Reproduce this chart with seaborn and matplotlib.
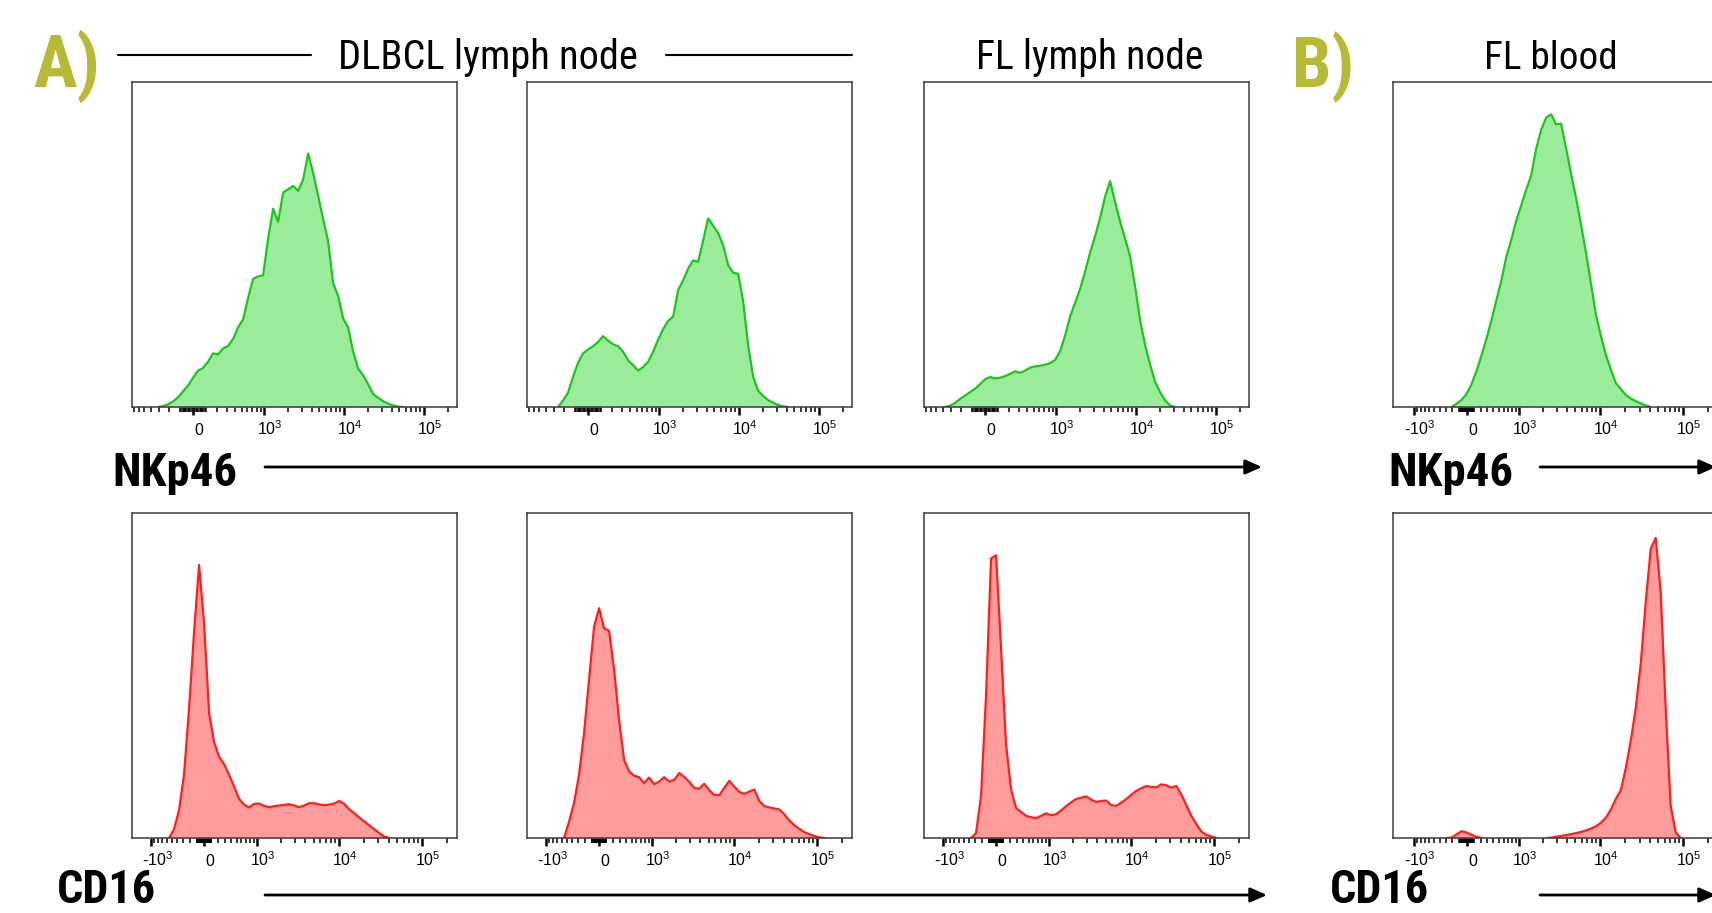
import numpy as np
import pandas as pd
import matplotlib
matplotlib.use("Agg")
import matplotlib.pyplot as plt
from matplotlib import font_manager
from matplotlib.patches import FancyArrowPatch
from matplotlib.lines import Line2D
from matplotlib.transforms import ScaledTranslation
from matplotlib.ticker import FixedLocator, FixedFormatter, NullLocator
import seaborn as sns

# ------------------------------------------------------------------ data
# histogram bin centres (fluorescence intensity), one grid per display transform
grid_top = [-718, -613, -525, -447, -376, -313, -257, -206, -160, -117, -77, -38,
            0, 38, 77, 117, 160, 206, 257, 313, 376, 447, 525, 613, 718, 834, 970,
            1128, 1305, 1512, 1749, 2025, 2341,
            2703, 3122, 3606, 4165, 4811, 5556, 6418, 7412, 8561, 9888, 11420, 13190,
            15235, 17600, 20320, 23470, 27110, 31310, 36170, 41770, 48250, 55730,
            64370, 74340, 85870, 99180]
grid_bot = [-1658, -1432, -1234, -1062, -911, -777, -658, -551, -454, -366, -285,
            -209, -137, -68,
            0, 68, 137, 209, 285, 366, 454, 551, 658, 777, 911, 1062, 1234, 1432,
            1658, 1915, 2209, 2545, 2922, 3360, 3862,
            4440, 5110, 5870, 6740, 7740, 8890, 10200, 11710, 13450, 15440, 17720,
            20340, 23350, 26800, 30770, 35330, 40570, 46570, 53460, 61370, 70460,
            80900, 92860, 106600, 122400, 140600, 161400, 185300, 212700, 244200]

# counts, % of plot height
nkp46_dlbcl_a = [0, 0, 0, 0, 0, 0, 0.3, 0.8, 1.7, 3.0, 4.8, 6.6,
                 9.0, 11.2, 12.0, 13.9, 16.5, 16.2, 18.0, 18.8, 21.0, 24.6, 27.0,
                 33.5, 39.4, 40.2, 40.5, 52, 61, 57, 66, 67, 68,
                 66.5, 70, 78, 72, 65, 57.8, 51, 38, 34.2, 27.2, 24.5, 17, 11.8,
                 9.8, 7, 4, 2.8, 1.8, 1.0, 0.5, 0.1, 0, 0, 0, 0, 0]
nkp46_dlbcl_b = [0, 0, 0, 0, 0, 0, 0, 2, 4.4, 9.3, 13.6, 16.5,
                 17.7, 18.7, 20, 21.8, 20.4, 19.3, 18.7, 17, 14.3, 12.8, 11.2, 12.3,
                 13.9, 17, 20.7, 24, 26.5, 27.8, 36, 39, 42.6,
                 45.1, 44.7, 51.2, 58, 55.8, 53.5, 49.8, 43.7, 41.3, 41, 32.5, 19,
                 9.3, 5, 3.4, 2.1, 1.3, 0.6, 0.2, 0, 0, 0, 0, 0, 0, 0]
nkp46_fl_ln = [0, 0, 0, 0, 0, 0.4, 1.2, 2.5, 3.5, 4.6, 5.6, 7,
               8.5, 9.2, 8.8, 9, 9.5, 10.2, 11, 10.5, 11.2, 12.1, 12.5, 12.7, 13,
               13.5, 14.5, 17.2, 22, 27.9, 32.1, 36.4, 41.8,
               47.6, 52.6, 58.2, 64.8, 69.5, 63, 57, 51.8, 46.3, 37, 26.6, 19, 13,
               7.7, 4.5, 2, 0.4, 0, 0, 0, 0, 0, 0, 0, 0, 0]
nkp46_fl_blood = [0, 0, 0, 0, 0, 0, 0, 0, 0, 0, 0, 0, 1, 2.2,
                  4, 7, 11, 15.8, 21, 26.7, 32.8, 38.9, 46.2, 51.4, 57.3, 62, 66.8,
                  71.2, 79.5, 85.3, 89.1, 90, 87, 87.2, 79.6,
                  71.8, 64.2, 56, 47.4, 37.8, 28.3, 21.8, 16, 11.4, 7.3, 5.5, 3.7,
                  2.6, 1.8, 1.1, 0.5, 0, 0, 0, 0, 0, 0, 0, 0, 0, 0, 0, 0, 0, 0]
cd16_dlbcl_a = [0, 0, 0, 0, 0, 0, 0, 0, 2.7, 8.6, 19.4, 39.8, 63.4, 84,
                66, 38.5, 29.5, 25, 22.7, 19.4, 15.8, 12, 10.3, 9.4, 10.5, 10.6,
                9.9, 9.5, 9.8, 10, 10.2, 10.4, 10, 9.5, 10,
                10.7, 10.7, 10.3, 10.1, 10.3, 10.6, 11.4, 10.5, 8.8, 7.6, 6.3, 5.1,
                3.9, 2.7, 1.5, 0.4, 0, 0, 0, 0, 0, 0, 0, 0, 0, 0, 0, 0, 0, 0]
cd16_dlbcl_b = [0, 0, 0, 0, 0, 0, 0, 0, 5, 10.8, 19.4, 32.2, 48.8, 65,
                70.7, 64.5, 63.8, 51.8, 36.2, 24, 20.5, 19.2, 18.7, 16.9, 18.6,
                16.6, 17.3, 18.7, 17.4, 17.9, 20, 18.8, 17.3, 15.4, 15.2,
                16.7, 14.7, 13.2, 13.2, 15.4, 17.6, 15.8, 14.2, 13.6, 14.3, 14.9,
                11.4, 9.8, 9.4, 9.1, 8.8, 7.3, 5.4, 3.9, 2.8, 1.8, 1.2, 0.6, 0.2,
                0, 0, 0, 0, 0, 0]
cd16_fl_ln = [0, 0, 0, 0, 0, 0, 0, 0, 0, 0, 1.5, 13, 44, 86,
              87, 58, 28.7, 14.8, 9.2, 8, 6.8, 6.4, 6.1, 6.8, 7.6, 7, 7.3, 8.5,
              9.8, 11, 12, 12.4, 12.8, 11.8, 11.1,
              11.4, 11.5, 10.1, 9.9, 10.9, 12, 13.3, 14.5, 15.3, 16, 15.7, 15.6,
              16.5, 16.2, 15.5, 16, 13.4, 10.1, 6.8, 4.3, 2, 1, 0.5,
              0, 0, 0, 0, 0, 0, 0]
cd16_fl_blood = [0, 0, 0, 0, 0, 0, 0, 0, 0, 0, 0, 0.1, 1.1, 2.1,
                 1.7, 1, 0.4, 0, 0, 0, 0, 0, 0, 0, 0, 0, 0, 0, 0, 0, 0, 0.1, 0.4,
                 0.6, 0.9,
                 1.2, 1.5, 1.9, 2.3, 2.9, 3.6, 4.7, 6.3, 8.8, 12.1, 14.7, 21.5, 30,
                 40, 53.7, 72.5, 89, 92.3, 75.8, 40.3, 10, 1.8, 0, 0, 0, 0, 0, 0,
                 0, 0]

tick_values = [-1000, 0, 1000, 10000, 100000]
tick_labels = [r"-$10^{3}$", "0", r"$10^{3}$", r"$10^{4}$", r"$10^{5}$"]
column_titles = ["DLBCL lymph node", "FL lymph node", "FL blood"]
row_labels = ["NKp46", "CD16"]
panel_letters = ["A)", "B)"]

# ------------------------------------------------------------------ style
sns.set_theme(style="white")
avail = {f.name for f in font_manager.fontManager.ttflist}
FONT = "Liberation Sans"
for cand in ["Liberation Sans Narrow", "Arial Narrow", "Nimbus Sans Narrow",
             "Roboto Condensed"]:
    if cand in avail:
        FONT = cand
        break
TICKFONT = "Liberation Sans"
plt.rcParams["font.family"] = [FONT, "DejaVu Sans"]
plt.rcParams["mathtext.fontset"] = "custom"
plt.rcParams["mathtext.rm"] = TICKFONT
plt.rcParams["mathtext.it"] = TICKFONT
plt.rcParams["mathtext.bf"] = TICKFONT
plt.rcParams["text.color"] = "black"
plt.rcParams["xtick.color"] = "black"
plt.rcParams["xtick.labelcolor"] = "black"

W, H = 1712, 913
fig = plt.figure(figsize=(W / 100, H / 100), dpi=100)
fig.patch.set_facecolor("white")

GREEN_LINE, GREEN_FILL = "#1ec51e", "#9aeb9a"
RED_LINE, RED_FILL = "#ff1f1f", "#ff9c9c"
OLIVE = "#b6ba35"


def add_px_axes(left, top, w=325, h=325):
    return fig.add_axes([left / W, 1 - (top + h) / H, w / W, h / H])


minor_ticks = sorted({s * m * 10 ** n for s in (-1, 1) for n in (1, 2, 3, 4)
                      for m in range(1, 10)} - set(tick_values) | {200000})
label_shift = ScaledTranslation(6 / 100, 0, fig.dpi_scale_trans)


def style_axes(ax, c, xmin):
    fwd = lambda x, c=c: np.arcsinh(np.asarray(x, dtype=float) / c)
    inv = lambda u, c=c: c * np.sinh(np.asarray(u, dtype=float))
    ax.set_xscale("function", functions=(fwd, inv))
    ax.set_xlim(xmin, 262144)
    ax.set_ylim(0, 100)
    ax.xaxis.set_major_locator(FixedLocator(tick_values))
    ax.xaxis.set_major_formatter(FixedFormatter(tick_labels))
    ax.xaxis.set_minor_locator(FixedLocator(minor_ticks))
    ax.yaxis.set_major_locator(NullLocator())
    ax.yaxis.set_minor_locator(NullLocator())
    ax.tick_params(axis="x", which="major", direction="out", length=5.4, width=1.8,
                   color="black", labelsize=11.5, pad=14.5, bottom=True)
    ax.tick_params(axis="x", which="minor", direction="out", length=3.6, width=1.1,
                   color="black", bottom=True)
    for t in ax.xaxis.get_major_ticks():
        t.label1.set_fontfamily([TICKFONT])
        t.label1.set_verticalalignment("baseline")
        t.label1.set_transform(t.label1.get_transform() + label_shift)
    for sp in ax.spines.values():
        sp.set_visible(True)
        sp.set_color("#3c3c3c")
        sp.set_linewidth(1.1)
    ax.set_xlabel("")
    ax.set_ylabel("")


def draw_hist(ax, grid, vals, line, fill):
    x = np.asarray(grid, dtype=float)
    y = np.asarray(vals, dtype=float)
    assert len(x) == len(y), (len(x), len(y))
    ax.fill_between(x, 0, y, color=fill, lw=0, zorder=1)
    # outline only where the histogram is above the baseline
    on = y > 0
    keep = on | np.r_[on[1:], False] | np.r_[False, on[:-1]]
    idx = np.flatnonzero(keep)
    if len(idx) == 0:
        return
    splits = np.flatnonzero(np.diff(idx) > 1) + 1
    for seg in np.split(idx, splits):
        df = pd.DataFrame({"x": x[seg], "y": y[seg]})
        sns.lineplot(data=df, x="x", y="y", ax=ax, color=line, lw=1.6,
                     sort=False, estimator=None, zorder=2)


lefts = [132, 527, 924, 1393]
top_row, bot_row = 82, 513
panels = [
    (lefts[0], top_row, grid_top, nkp46_dlbcl_a, 263, -740, "g"),
    (lefts[1], top_row, grid_top, nkp46_dlbcl_b, 263, -740, "g"),
    (lefts[2], top_row, grid_top, nkp46_fl_ln, 263, -740, "g"),
    (lefts[3], top_row, grid_bot, nkp46_fl_blood, 490, -1850, "g"),
    (lefts[0], bot_row, grid_bot, cd16_dlbcl_a, 490, -1755, "r"),
    (lefts[1], bot_row, grid_bot, cd16_dlbcl_b, 490, -1755, "r"),
    (lefts[2], bot_row, grid_bot, cd16_fl_ln, 490, -1755, "r"),
    (lefts[3], bot_row, grid_bot, cd16_fl_blood, 490, -1850, "r"),
]
for left, top, grid, vals, c, xmin, col in panels:
    ax = add_px_axes(left, top)
    line, fill = (GREEN_LINE, GREEN_FILL) if col == "g" else (RED_LINE, RED_FILL)
    draw_hist(ax, grid, vals, line, fill)
    style_axes(ax, c, xmin)

to_fit = []


def ftext(x, y, s, target_w, size, **kw):
    t = fig.text(x / W, 1 - y / H, s, fontsize=size, va="baseline", **kw)
    to_fit.append((t, target_w, size))
    return t


def fline(x0, x1, y, lw=1.5):
    fig.add_artist(Line2D([x0 / W, x1 / W], [1 - y / H, 1 - y / H],
                          transform=fig.transFigure, color="black", lw=lw))


def farrow(x0, x1, y):
    fig.add_artist(FancyArrowPatch((x0 / W, 1 - y / H), (x1 / W, 1 - y / H),
                                   transform=fig.transFigure,
                                   arrowstyle="-|>,head_length=0.5,head_width=0.22",
                                   mutation_scale=20, lw=2.0, color="black",
                                   shrinkA=0, shrinkB=0))


# column titles
ftext(488, 69, column_titles[0], 300, 29.5, ha="center")
fline(118, 311, 55)
fline(666, 852, 55)
ftext(1090, 69, column_titles[1], 227, 29.5, ha="center")
ftext(1551, 69, column_titles[2], 133, 29.5, ha="center")

# panel letters
ftext(33, 87, panel_letters[0], 67, 54, ha="left", fontweight="bold", color=OLIVE)
ftext(1292, 87, panel_letters[1], 62, 54, ha="left", fontweight="bold", color=OLIVE)

# row labels and arrows
ftext(112, 486, row_labels[0], 125, 35, ha="left", fontweight="bold")
ftext(1388, 486, row_labels[0], 125, 35, ha="left", fontweight="bold")
ftext(57, 903, row_labels[1], 99, 34, ha="left", fontweight="bold")
ftext(1330, 903, row_labels[1], 99, 34, ha="left", fontweight="bold")
farrow(265, 1262, 467)
farrow(1540, 1716, 467)
farrow(265, 1267, 895)
farrow(1540, 1716, 895)

# fit the text widths to the reference layout (only shrinks)
fig.canvas.draw()
renderer = fig.canvas.get_renderer()
for t, target_w, size in to_fit:
    w = t.get_window_extent(renderer).width
    if w > target_w:
        t.set_fontsize(size * target_w / w)

fig.savefig("out.png", dpi=100, facecolor="white")
